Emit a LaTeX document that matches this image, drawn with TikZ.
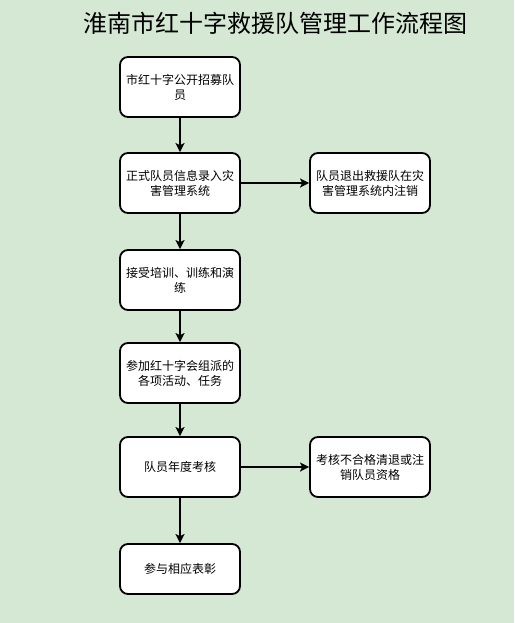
\documentclass[tikz,border=0pt]{standalone}
\usepackage{fontspec}
\usepackage{xcolor}
\setmainfont{Noto Sans CJK SC}
\usetikzlibrary{arrows.meta}
\definecolor{bggreen}{HTML}{D5E8D4}

\begin{document}
\begin{tikzpicture}[x=1pt, y=-1pt,
            every node/.style={
            inner sep=0pt, text centered, font=\fontsize{12}{15}\selectfont}
        ]
        \tikzstyle {step_box} = [rectangle, rounded corners=8pt, draw=black, line width=1.8pt, fill=white, minimum width=120pt, minimum height=60pt, align=center]
        \tikzstyle {flow_arrow} = [-{Stealth[length=9pt, width=9pt, inset=2pt]}, line width=1.8pt]

        \fill[bggreen] (0,0) rectangle (514,623);
        \useasboundingbox (0,0) rectangle (514,623);

        \node (title) at (275,23) {\fontsize{24}{27}\selectfont 淮南市红十字救援队管理工作流程图};

        \node [step_box] (recruit) at (180,87) {市红十字公开招募队\\员};
        \node [step_box] (register) at (180,183) {正式队员信息录入灾\\害管理系统};
        \node [step_box] (train) at (180,280) {接受培训、训练和演\\练};
        \node [step_box] (task) at (180,373) {参加红十字会组派的\\各项活动、任务};
        \node [step_box] (assess) at (180,467) {队员年度考核};
        \node [step_box, minimum height=50pt] (reward) at (180,569) {参与相应表彰};
        \node [step_box] (quit) at (370,183) {队员退出救援队在灾\\害管理系统内注销};
        \node [step_box] (fail) at (370,467) {考核不合格清退或注\\销队员资格};

        \draw [flow_arrow] (recruit) -- (register);
        \draw [flow_arrow] (register) -- (train);
        \draw [flow_arrow] (train) -- (task);
        \draw [flow_arrow] (task) -- (assess);
        \draw [flow_arrow] (assess) -- (reward);
        \draw [flow_arrow] (register) -- (quit);
        \draw [flow_arrow] (assess) -- (fail);

\end{tikzpicture}
\end{document}
